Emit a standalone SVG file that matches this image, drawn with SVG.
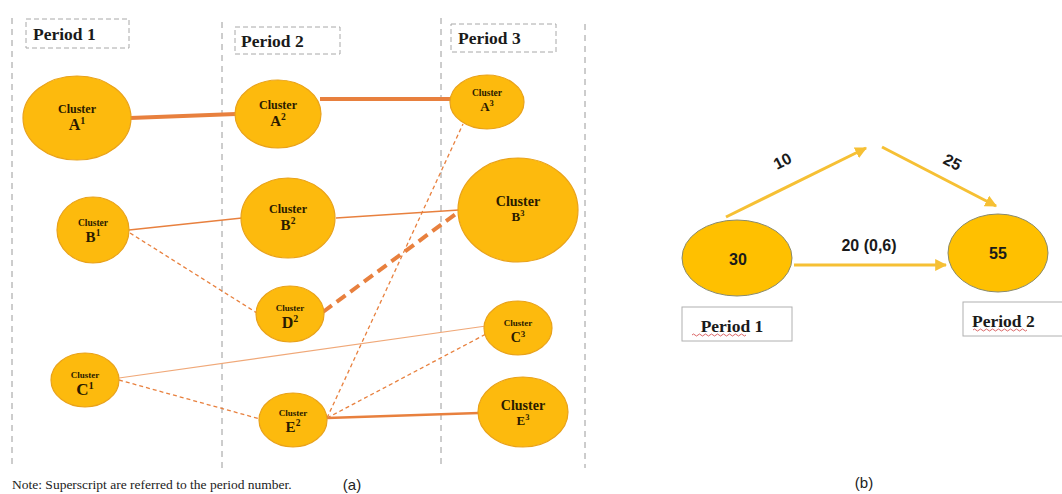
<svg xmlns="http://www.w3.org/2000/svg" width="1062" height="494" viewBox="0 0 1062 494">
<style>
.vl{stroke:#9a9a9a;stroke-width:1;stroke-dasharray:6 5;fill:none}
.pb{fill:#fff;stroke:#a8a8a8;stroke-width:1;stroke-dasharray:5 3}
.pt{font-family:'Liberation Serif',serif;font-weight:bold;font-size:17.5px;fill:#1a1a1a}
.nd{fill:#FDBA0D;stroke:#E9A21A;stroke-width:1.2}
.cl{font-family:'Liberation Serif',serif;font-weight:bold;fill:#2a1a00;text-anchor:middle}
.c{stroke:#E8803E;fill:none}
.ds{stroke-dasharray:4 3}
.nd2{fill:#FFC000;stroke:#8a8a6a;stroke-width:1}
.bl{font-family:'Liberation Sans',sans-serif;font-weight:bold;font-size:16px;fill:#1a1a1a;text-anchor:middle}
.ar{stroke:#F6C034;stroke-width:3;fill:none;marker-end:url(#ah)}
.pb2{fill:#fff;stroke:#b0b0b0;stroke-width:1}
.note{font-family:'Liberation Serif',serif;font-size:13.5px;fill:#222}
.lab{font-family:'Liberation Sans',sans-serif;font-size:15px;fill:#222;text-anchor:middle}
</style>
<defs>
<marker id="ah" viewBox="0 0 10 10" refX="9" refY="5" markerWidth="4" markerHeight="4" orient="auto" markerUnits="strokeWidth">
<path d="M0,0 L10,5 L0,10 z" fill="#F6C034"/>
</marker>
</defs>
<rect width="1062" height="494" fill="#fff"/>
<g id="grid">
<line class="vl" x1="12" y1="18" x2="12" y2="468"/>
<line class="vl" x1="222" y1="22" x2="222" y2="468"/>
<line class="vl" x1="441" y1="18" x2="441" y2="468"/>
<line class="vl" x1="585" y1="24" x2="585" y2="468"/>
</g>
<g id="period-labels-a">
<rect class="pb" x="26" y="19" width="103" height="29"/>
<text class="pt" x="33" y="40">Period 1</text>
<rect class="pb" x="235" y="27" width="105" height="27"/>
<text class="pt" x="241" y="47">Period 2</text>
<rect class="pb" x="451" y="24" width="105" height="28"/>
<text class="pt" x="458" y="44">Period 3</text>
</g>
<g id="connectors">
<line class="c" x1="130" y1="118" x2="236" y2="114" stroke-width="4"/>
<line class="c" x1="320" y1="99" x2="451" y2="99" stroke-width="4"/>
<line class="c" x1="129" y1="230" x2="242" y2="218" stroke-width="1.4"/>
<line class="c ds" x1="130" y1="233" x2="257" y2="313" stroke-width="1.3"/>
<line class="c" x1="336" y1="218" x2="459" y2="210" stroke-width="1.4"/>
<line class="c" x1="323" y1="312" x2="461" y2="210" stroke-width="4" stroke-dasharray="11 6"/>
<line class="c ds" x1="327" y1="418" x2="463" y2="124" stroke-width="1.3"/>
<line x1="119" y1="378" x2="486" y2="326" stroke="#F0A878" stroke-width="1.2"/>
<line class="c ds" x1="119" y1="380" x2="260" y2="419" stroke-width="1.3"/>
<line class="c ds" x1="327" y1="418" x2="488" y2="333" stroke-width="1.3"/>
<line class="c" x1="327" y1="418" x2="479" y2="413" stroke-width="2.5"/>
</g>
<g id="A1"><ellipse class="nd" cx="77" cy="118" rx="54" ry="42"/>
<text class="cl" x="77" y="113" font-size="12">Cluster</text><text class="cl" x="77" y="130" font-size="16">A<tspan font-size="10" dy="-6">1</tspan></text></g>
<g id="A2"><ellipse class="nd" cx="278" cy="114" rx="43" ry="34"/>
<text class="cl" x="278" y="109" font-size="12">Cluster</text><text class="cl" x="278" y="126" font-size="15">A<tspan font-size="9.5" dy="-6">2</tspan></text></g>
<g id="A3"><ellipse class="nd" cx="487" cy="102" rx="37" ry="27"/>
<text class="cl" x="487" y="96" font-size="9.5">Cluster</text><text class="cl" x="487" y="111" font-size="13">A<tspan font-size="8.5" dy="-5">3</tspan></text></g>
<g id="B1"><ellipse class="nd" cx="93" cy="230" rx="36" ry="33"/>
<text class="cl" x="93" y="226" font-size="9.5">Cluster</text><text class="cl" x="93" y="242" font-size="15">B<tspan font-size="9.5" dy="-6">1</tspan></text></g>
<g id="B2"><ellipse class="nd" cx="288" cy="218" rx="47" ry="40"/>
<text class="cl" x="288" y="213" font-size="12">Cluster</text><text class="cl" x="288" y="230" font-size="15">B<tspan font-size="9.5" dy="-6">2</tspan></text></g>
<g id="B3"><ellipse class="nd" cx="518" cy="210" rx="60" ry="52"/>
<text class="cl" x="518" y="206" font-size="14">Cluster</text><text class="cl" x="518" y="221" font-size="13">B<tspan font-size="8.5" dy="-5">3</tspan></text></g>
<g id="D2"><ellipse class="nd" cx="290" cy="314" rx="34" ry="28"/>
<text class="cl" x="290" y="311" font-size="9">Cluster</text><text class="cl" x="290" y="328" font-size="16">D<tspan font-size="10" dy="-6">2</tspan></text></g>
<g id="C3"><ellipse class="nd" cx="518" cy="328" rx="34" ry="27"/>
<text class="cl" x="518" y="326" font-size="9">Cluster</text><text class="cl" x="518" y="342" font-size="14">C<tspan font-size="9" dy="-5">3</tspan></text></g>
<g id="C1"><ellipse class="nd" cx="85" cy="380" rx="34" ry="27"/>
<text class="cl" x="85" y="378" font-size="9">Cluster</text><text class="cl" x="85" y="395" font-size="17">C<tspan font-size="10.5" dy="-6">1</tspan></text></g>
<g id="E2"><ellipse class="nd" cx="293" cy="420" rx="34" ry="27"/>
<text class="cl" x="293" y="416" font-size="9">Cluster</text><text class="cl" x="293" y="432" font-size="15">E<tspan font-size="9.5" dy="-6">2</tspan></text></g>
<g id="E3"><ellipse class="nd" cx="523" cy="412" rx="45" ry="35"/>
<text class="cl" x="523" y="410" font-size="14">Cluster</text><text class="cl" x="523" y="425" font-size="13">E<tspan font-size="8.5" dy="-5">3</tspan></text></g>
<text class="note" x="12" y="489">Note: Superscript are referred to the period number.</text>
<text class="lab" x="352" y="490">(a)</text>
<g id="connectors-b">
<line class="ar" x1="726" y1="217" x2="866" y2="148"/>
<line class="ar" x1="882" y1="147" x2="996" y2="206"/>
<line class="ar" x1="794" y1="265" x2="946" y2="265"/>
</g>
<text class="bl" transform="translate(785,166) rotate(-27)">10</text>
<text class="bl" transform="translate(950,167) rotate(27)">25</text>
<text class="bl" x="869" y="251">20 (0,6)</text>
<g id="n30"><ellipse class="nd2" cx="737" cy="258" rx="55" ry="38"/><text class="bl" x="738" y="265" font-size="17">30</text></g>
<g id="n55"><ellipse class="nd2" cx="998" cy="253" rx="50" ry="39"/><text class="bl" x="998" y="259" font-size="17">55</text></g>
<g id="p1b"><rect class="pb2" x="682" y="307" width="110" height="34"/>
<text class="pt" x="732" y="332" text-anchor="middle" font-size="20">Period 1</text>
<path d="M692,335 q1.5,-2 3,0 t3,0 t3,0 t3,0 t3,0 t3,0 t3,0 t3,0 t3,0 t3,0 t3,0 t3,0 t3,0 t3,0 t3,0 t3,0 t3,0 t3,0" stroke="#d04040" stroke-width="0.8" fill="none"/></g>
<g id="p2b"><rect class="pb2" x="963" y="302" width="105" height="34"/>
<text class="pt" x="972" y="327" font-size="20">Period 2</text>
<path d="M973,330 q1.5,-2 3,0 t3,0 t3,0 t3,0 t3,0 t3,0 t3,0 t3,0 t3,0 t3,0 t3,0 t3,0 t3,0 t3,0 t3,0 t3,0 t3,0 t3,0" stroke="#d04040" stroke-width="0.8" fill="none"/></g>
<text class="lab" x="864" y="488">(b)</text>
</svg>
